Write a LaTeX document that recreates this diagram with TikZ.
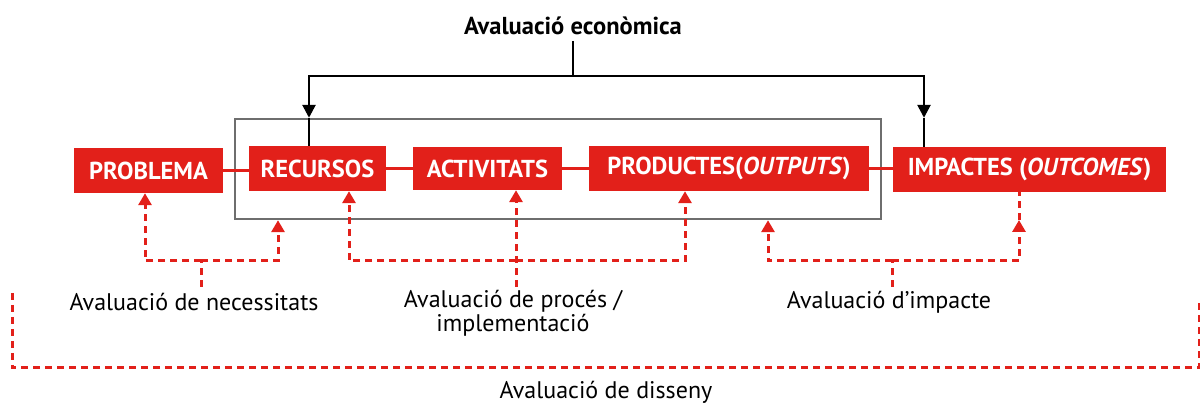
\documentclass[tikz,border=0pt]{standalone}
\usepackage{fontspec}
\setmainfont{PT Sans}
\usetikzlibrary{arrows.meta}
\definecolor{dred}{RGB}{226,32,26}
\definecolor{gbox}{RGB}{110,110,110}
\tikzset{
  redbox/.style={fill=dred,text=white,inner sep=0pt,font=\fontsize{24.5}{28}\selectfont\bfseries},
  lbl/.style={inner sep=0pt,align=center,font=\fontsize{24}{24}\selectfont},
  redline/.style={draw=dred,line width=2.4pt},
  reddash/.style={draw=dred,line width=3pt,dash pattern=on 7pt off 5pt},
  redarr/.style={reddash,-{Triangle[width=13pt,length=12pt]}},
  blk/.style={draw=black,line width=2.6pt},
  blkarr/.style={blk,-{Triangle[width=13pt,length=13pt]}},
}
\begin{document}
\begin{tikzpicture}[x=1pt,y=-1pt]
\useasboundingbox (0,0) rectangle (1200,403);
% group box
\node[draw=gbox,line width=2.4pt,minimum width=646pt,minimum height=100pt,inner sep=0pt] (grp) at (558,169) {};
% red boxes
\node[redbox,minimum width=149pt,minimum height=45pt] (PROB) at (148.5,170.5) {PROBLEMA};
\node[redbox,minimum width=137pt,minimum height=45pt] (REC) at (317.5,168.5) {RECURSOS};
\node[redbox,minimum width=149pt,minimum height=43pt] (ACT) at (487.5,168.5) {ACTIVITATS};
\node[redbox,minimum width=280pt,minimum height=45pt] (PROD) at (729,168.5) {PRODUCTES(\textit{OUTPUTS})};
\node[redbox,minimum width=273pt,minimum height=45pt] (IMP) at (1029.5,169.5) {IMPACTES (\textit{OUTCOMES})};
% connecting lines
\draw[redline] (PROB.east) -- (REC.west |- PROB.east);
\draw[redline] (REC.east) -- (ACT.west |- REC.east);
\draw[redline] (ACT.east) -- (PROD.west |- ACT.east);
\draw[redline] (PROD.east) -- (IMP.west |- PROD.east);
% economic evaluation
\node[inner sep=0pt,font=\fontsize{24.5}{28}\selectfont\bfseries] (eco) at (573,26) {Avaluació econòmica};
\coordinate (ecoS) at (573,41);
\coordinate (ecoJ) at (573,76);
\coordinate (ecoL) at (309,76);
\coordinate (ecoR) at (924,76);
\draw[blk] (ecoS) -- (ecoJ);
\draw[blkarr] (ecoJ) -- (ecoL) -- (ecoL |- grp.north);
\draw[blk] (ecoL |- grp.north) -- (ecoL |- REC.north);
\draw[blkarr] (ecoJ) -- (ecoR) -- (ecoR |- grp.north);
\draw[blk] (ecoR |- grp.north) -- (ecoR |- IMP.north);
% necessitats
\coordinate (necL) at (145,261);
\coordinate (necJ) at (201,261);
\coordinate (necR) at (278,261);
\coordinate (necS) at (201,287);
\draw[reddash] (necS) -- (necJ);
\draw[redarr] (necJ) -- (necL) -- (necL |- PROB.south);
\draw[redarr] (necJ) -- (necR) -- (necR |- grp.south);
\node[lbl] (lnec) at (194,302) {Avaluació de necessitats};
% proces
\coordinate (prL) at (349,261);
\coordinate (prM) at (516,261);
\coordinate (prR) at (685,261);
\coordinate (prS) at (516,287);
\draw[redarr] (prM) -- (prL) -- (prL |- REC.south);
\draw[redarr] (prM) -- (prR) -- (prR |- PROD.south);
\draw[redarr] (prS) -- (prS |- ACT.south);
\node[lbl] (lpro) at (513,313) {Avaluació de procés /\\implementació};
% impacte
\coordinate (imL) at (768,261);
\coordinate (imJ) at (892,261);
\coordinate (imR) at (1019,261);
\coordinate (imS) at (892,287);
\coordinate (imT) at (1019,220);
\draw[reddash] (imS) -- (imJ);
\draw[redarr] (imJ) -- (imL) -- (imL |- grp.south);
\draw[redarr] (imJ) -- (imR) -- (imT);
\draw[reddash] (imT) -- (imT |- IMP.south);
\node[lbl] (limp) at (889,302) {Avaluació d’impacte};
% disseny
\coordinate (dLT) at (12,293);
\coordinate (dLB) at (12,368);
\coordinate (dRB) at (1199,368);
\coordinate (dRT) at (1199,299);
\draw[reddash] (dLT) -- (dLB) -- (dRB) -- (dRT);
\node[lbl] (ldis) at (606,392) {Avaluació de disseny};
\end{tikzpicture}
\end{document}
